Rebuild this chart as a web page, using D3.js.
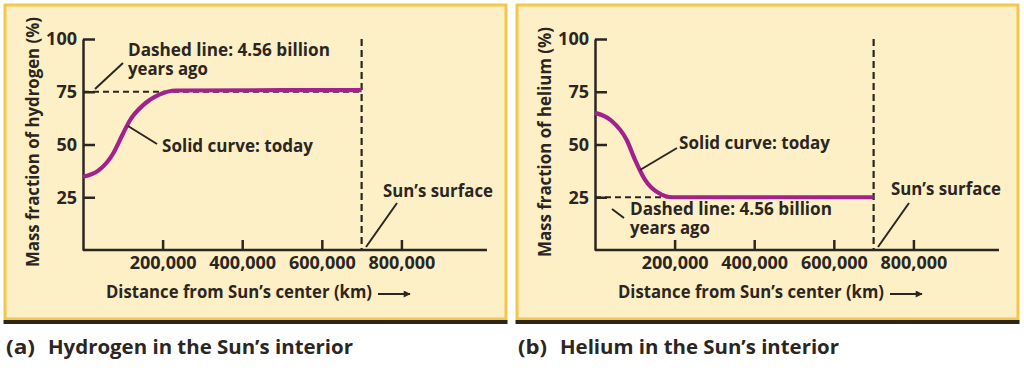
<!DOCTYPE html>
<html lang="en">
    <head>
        <meta charset="UTF-8">
        <style>
            html, body{
                margin: 0;
                padding: 0;
                background: #fff;
            }
            svg text{
                font-family: 'Open Sans', 'Noto Sans', sans-serif;
                font-weight: 700;
                fill: #2b2622;
            }
        </style>
    </head>
    <body>
        <svg id="chart" width="1024" height="370"></svg>

        <script src="https://cdnjs.cloudflare.com/ajax/libs/d3/7.8.5/d3.min.js"></script>
        <script>
            ////////////////////////////////
            //// DATA                   ////
            ////////////////////////////////

            // distance from centre (km) and mass fraction (%)
            const hydrogenToday = [
                [0, 34.7], [40000, 37.8], [75000, 45.5], [100000, 55], [118000, 61.5],
                [150000, 68.5], [190000, 73.5], [235000, 75.6], [700000, 75.8]
            ]
            const heliumToday = [
                [0, 65], [40000, 61.5], [80000, 52], [100000, 43], [125000, 33.5],
                [160000, 27], [195000, 25], [700000, 25]
            ]
            const hydrogenEarly = 75          // dashed line, 4.56 billion years ago
            const heliumEarly = 25
            const sunSurfaceKm = 700000
            const xTicks = [200000, 400000, 600000, 800000]
            const yTicks = [25, 50, 75, 100]
            const panelTitles = ['Hydrogen in the Sun\u2019s interior', 'Helium in the Sun\u2019s interior']
            const panelLetters = ['(a)', '(b)']
            const yLabels = ['Mass fraction of hydrogen (%)', 'Mass fraction of helium (%)']

            ////////////////////////////////
            //// SETTINGS               ////
            ////////////////////////////////

            const settings = {
                panelW:     501,
                panelH:     314,
                panelX:     [5, 517],
                panelY:     5,
                fill:       '#fdf0c6',
                border:     '#f3c64c',
                shadow:     '#2e261c',
                curve:      '#a3218d',
                ink:        '#2b2622'
            }

            const x = d3.scaleLinear().domain([0, 1015000]).range([78, 482])
            const y = d3.scaleLinear().domain([0, 100]).range([245, 34])

            const svg = d3.select('#chart')
            svg.append('defs').append('marker')
                .attr('id', 'arrow')
                .attr('viewBox', '0 0 10 10')
                .attr('refX', 9).attr('refY', 5)
                .attr('markerWidth', 8).attr('markerHeight', 7)
                .attr('markerUnits', 'userSpaceOnUse')
                .attr('orient', 'auto')
                .append('path')
                    .attr('d', 'M0,0 L10,5 L0,10 z')
                    .attr('fill', settings.ink)

            const line = d3.line()
                .x(d => x(d[0]))
                .y(d => y(d[1]))
                .curve(d3.curveMonotoneX)

            // text squeezed to the width it has in the printed figure
            function label(g, txt, px, py, size, width){
                const t = g.append('text')
                    .attr('x', px).attr('y', py)
                    .attr('font-size', size)
                    .text(txt)
                if (width) t.attr('textLength', width).attr('lengthAdjust', 'spacingAndGlyphs')
                return t
            }

            function drawPanel(i, curveData, earlyValue, notes){
                const g = svg.append('g')
                    .attr('transform', `translate(${settings.panelX[i]},${settings.panelY})`)

                // 1. Panel box with dark underline
                g.append('rect')
                    .attr('x', 0).attr('y', 0)
                    .attr('width', settings.panelW).attr('height', settings.panelH)
                    .attr('fill', settings.fill)
                    .attr('stroke', settings.border)
                    .attr('stroke-width', 3)
                g.append('rect')
                    .attr('x', -1.5).attr('y', settings.panelH + 1)
                    .attr('width', settings.panelW + 3).attr('height', 4)
                    .attr('fill', settings.shadow)

                // 2. Axes
                const xAxis = d3.axisBottom(x).tickValues(xTicks)
                    .tickSize(-10).tickSizeOuter(0).tickPadding(6)
                    .tickFormat(d3.format(','))
                const yAxis = d3.axisLeft(y).tickValues(yTicks)
                    .tickSize(-12).tickSizeOuter(0).tickPadding(6)

                const gx = g.append('g').attr('transform', `translate(0,${y(0)})`).call(xAxis)
                const gy = g.append('g').attr('transform', `translate(${x(0)},0)`).call(yAxis)
                ;[gx, gy].forEach(a => {
                    a.selectAll('path, line').attr('stroke', settings.ink).attr('stroke-width', 2.5)
                    a.selectAll('text').attr('font-size', 18).attr('fill', settings.ink)
                        .style('font-family', "'Open Sans', sans-serif").style('font-weight', 700)
                })
                gx.select('.domain').attr('d', `M${x(0)},0H${x.range()[1]}`)

                // 3. Sun's surface and early (dashed) profile
                g.append('line')
                    .attr('x1', x(sunSurfaceKm)).attr('x2', x(sunSurfaceKm))
                    .attr('y1', y(100)).attr('y2', y(0))
                    .attr('stroke', settings.ink).attr('stroke-width', 2.2)
                    .attr('stroke-dasharray', '7,4')
                g.append('line')
                    .attr('x1', x(0)).attr('x2', x(sunSurfaceKm))
                    .attr('y1', y(earlyValue)).attr('y2', y(earlyValue))
                    .attr('stroke', settings.ink).attr('stroke-width', 2.2)
                    .attr('stroke-dasharray', '6,4')

                // 4. Today's profile
                g.append('path')
                    .datum(curveData)
                    .attr('d', line)
                    .attr('fill', 'none')
                    .attr('stroke', settings.curve)
                    .attr('stroke-width', 4.2)

                // 5. Annotations (multi-line notes as one text with tspans)
                notes.forEach(n => {
                    g.append('line')
                        .attr('x1', n.from[0]).attr('y1', n.from[1])
                        .attr('x2', n.to[0]).attr('y2', n.to[1])
                        .attr('stroke', settings.ink).attr('stroke-width', 2)
                    const t = g.append('text')
                        .attr('x', n.at[0]).attr('y', n.at[1])
                        .attr('font-size', 17)
                    n.lines.forEach((s, k) => {
                        t.append('tspan')
                            .attr('x', n.at[0]).attr('y', n.at[1] + k * 19)
                            .attr('textLength', n.widths[k])
                            .attr('lengthAdjust', 'spacingAndGlyphs')
                            .text(s)
                    })
                })

                // 6. Axis titles
                label(g, 'Distance from Sun\u2019s center (km)', 101, 293, 17, 266)
                g.append('line')
                    .attr('x1', 373).attr('x2', 405)
                    .attr('y1', 289).attr('y2', 289)
                    .attr('stroke', settings.ink).attr('stroke-width', 2)
                    .attr('marker-end', 'url(#arrow)')
                label(g, yLabels[i], 0, 0, 17, i === 0 ? 250 : 230)
                    .attr('transform', `translate(34,137) rotate(-90)`)
                    .attr('text-anchor', 'middle')

                // 7. Caption under the panel
                label(g, panelLetters[i], 1, 349, 19, 29)
                label(g, panelTitles[i], 43, 349, 19, i === 0 ? 305 : 279)
            }

            drawPanel(0, hydrogenToday, hydrogenEarly, [
                {lines: ['Dashed line: 4.56 billion', 'years ago'], widths: [202, 80],
                    at: [123, 51], from: [90, 84], to: [118, 58]},
                {lines: ['Solid curve: today'], widths: [151],
                    at: [157, 147], from: [123, 121], to: [152, 139]},
                {lines: ['Sun\u2019s surface'], widths: [110],
                    at: [378, 192], from: [361, 242], to: [392, 198]}
            ])
            drawPanel(1, heliumToday, heliumEarly, [
                {lines: ['Dashed line: 4.56 billion', 'years ago'], widths: [202, 80],
                    at: [113, 210], from: [95, 204], to: [107, 213]},
                {lines: ['Solid curve: today'], widths: [151],
                    at: [162, 144], from: [123, 165], to: [160, 143]},
                {lines: ['Sun\u2019s surface'], widths: [110],
                    at: [374, 190], from: [361, 242], to: [392, 198]}
            ])
        </script>
    </body>
</html>
